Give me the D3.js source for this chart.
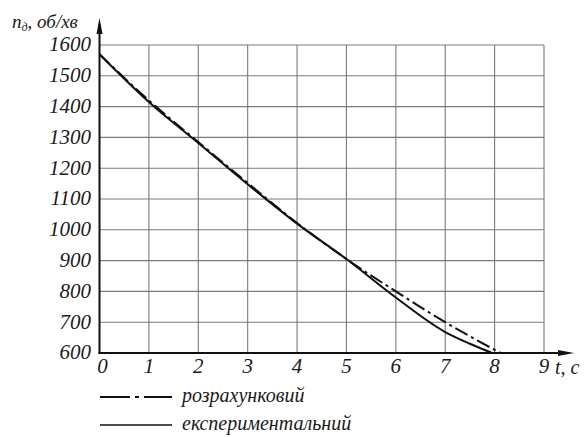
<!DOCTYPE html>
<html><head><meta charset="utf-8">
<script src="https://cdn.jsdelivr.net/npm/d3@7/dist/d3.min.js"></script>
<style>
body{margin:0;background:#fff}
#wrap{position:relative;width:587px;height:437px}
svg{display:block;position:absolute;left:0;top:0}
*{font-family:'Liberation Serif' !important}
.lbl{position:absolute;white-space:nowrap;font-style:italic;color:#1a1a1a;line-height:1}
</style>
</head><body><div id="wrap"><svg id="c" width="587" height="437"></svg></div>
<script>
const xTicks = [0,1,2,3,4,5,6,7,8,9];
const yTicks = [600,700,800,900,1000,1100,1200,1300,1400,1500,1600];
const calcT = [0,1,2,3,4,5,6,7,8.12];
const calcN = [1570,1420,1285,1152,1022,905,800,700,600];
const expT = [0,1,2,3,4,5,6,7,7.5,7.95];
const expN = [1570,1415,1282,1148,1020,905,780,668,630,600];
const legendLabels = ["розрахунковий","експериментальний"];

const svg = d3.select("#c");
const wrap = d3.select("#wrap");
const x = d3.scaleLinear().domain([0,9]).range([99.5,544]);
const y = d3.scaleLinear().domain([600,1600]).range([353,45]);

function labels(data, fx, fbase, size, anchor, txt){
  const tx = anchor==="end"?"-100%":anchor==="middle"?"-50%":"0";
  return wrap.append("div").selectAll("div").data(data).join("div").attr("class","lbl")
    .style("font-family","'Liberation Serif'")
    .style("font-size",size+"px")
    .style("left",d=>fx(d)+"px")
    .style("top",d=>(fbase(d)-0.8375*size)+"px")
    .style("transform",`translateX(${tx})`)
    .html(txt);
}

// grid
svg.append("g").selectAll("line").data(xTicks.slice(1)).join("line")
  .attr("x1",d=>x(d)).attr("x2",d=>x(d)).attr("y1",y(600)).attr("y2",y(1600))
  .attr("stroke","#7a7a7a").attr("stroke-width",1.1);
svg.append("g").selectAll("line").data(yTicks.slice(1)).join("line")
  .attr("x1",x(0)).attr("x2",x(9)).attr("y1",d=>y(d)).attr("y2",d=>y(d))
  .attr("stroke","#7a7a7a").attr("stroke-width",1.1);

// axes
svg.append("line").attr("x1",x(0)).attr("x2",x(0)).attr("y1",y(600)+1).attr("y2",24)
  .attr("stroke","#111").attr("stroke-width",2);
svg.append("line").attr("x1",x(0)-1).attr("x2",566).attr("y1",y(600)).attr("y2",y(600))
  .attr("stroke","#111").attr("stroke-width",2);
svg.append("path").attr("d",`M${x(0)},18 L${x(0)-3},34 L${x(0)+3},34 Z`).attr("fill","#111");
svg.append("path").attr("d",`M574,${y(600)} L558,${y(600)-3} L558,${y(600)+3} Z`).attr("fill","#111");

// tick labels
labels(yTicks, ()=>91, d=>y(d)+7, 21, "end", d=>d);
labels(xTicks, d=>x(d)+(d===0?3:0), ()=>374, 21, "middle", d=>d);
labels(["t, c"], ()=>555, ()=>374, 20, "start", d=>d);
labels(["n"], ()=>12, ()=>28, 19, "start", ()=>"n<sub style='font-size:12px;vertical-align:-3px'>д</sub>, об/хв");

// lines
const line = d3.line().x(d=>x(d[0])).y(d=>y(d[1])).curve(d3.curveMonotoneX);
svg.append("path").datum(calcT.map((t,i)=>[t,calcN[i]])).attr("d",line)
  .attr("fill","none").attr("stroke","#111").attr("stroke-width",2).attr("stroke-dasharray","14,4,3,4");
svg.append("path").datum(expT.map((t,i)=>[t,expN[i]])).attr("d",line)
  .attr("fill","none").attr("stroke","#111").attr("stroke-width",2);

// legend
svg.append("line").attr("x1",100).attr("x2",172).attr("y1",397).attr("y2",397)
  .attr("stroke","#111").attr("stroke-width",2).attr("stroke-dasharray","30,5,4,5");
svg.append("line").attr("x1",100).attr("x2",172).attr("y1",425).attr("y2",425)
  .attr("stroke","#111").attr("stroke-width",1.6);
labels(legendLabels, ()=>182, d=>402+legendLabels.indexOf(d)*28, 20, "start", d=>d);
</script></body></html>
